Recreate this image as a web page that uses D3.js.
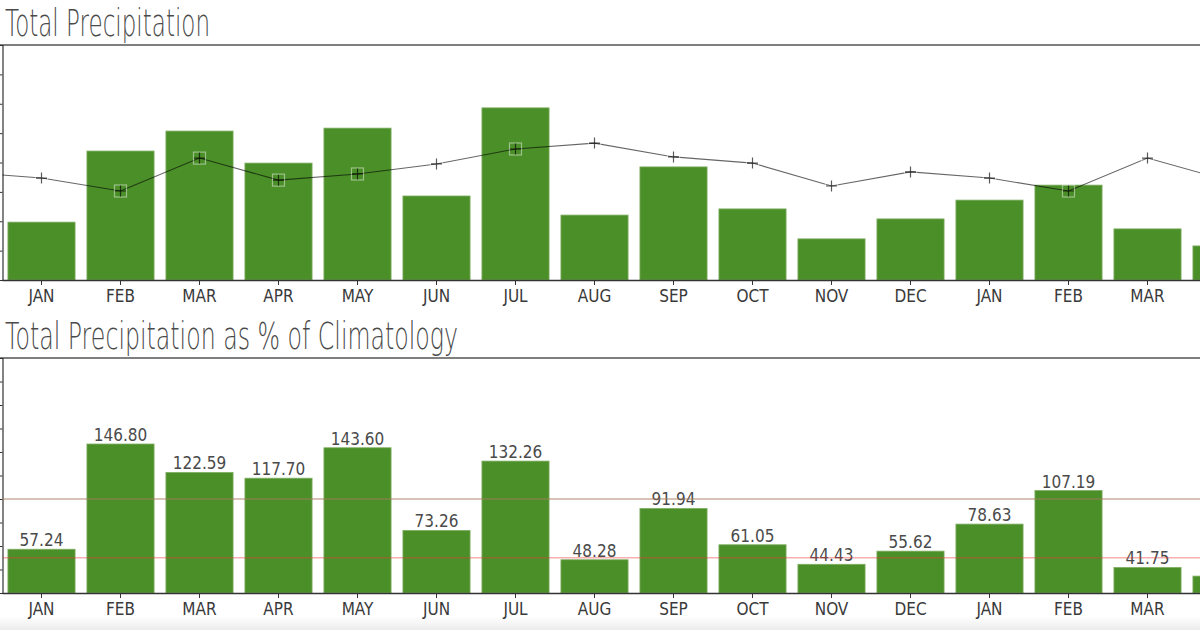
<!DOCTYPE html>
<html>
<head>
<meta charset="utf-8">
<script src="https://cdn.jsdelivr.net/npm/d3@7"></script>
<style>
	html, body { margin: 0; padding: 0; background: #fff; overflow: hidden; }
	text { font-family: "DejaVu Sans Condensed", "DejaVu Sans", sans-serif; }
</style>
</head>
<body>
<div id="chart"></div>
<script>
// Monthly labels along the x axis (16 months visible, last one cut off)
const months = ["JAN", "FEB", "MAR", "APR", "MAY", "JUN", "JUL", "AUG",
	"SEP", "OCT", "NOV", "DEC", "JAN", "FEB", "MAR", "APR"]

// Total precipitation per month (inches)
const precip = [1.97, 4.39, 5.07, 3.98, 5.17, 2.86, 5.86, 2.21,
	3.85, 2.42, 1.40, 2.08, 2.72, 3.23, 1.74, 1.16]

// Monthly climatology JAN..DEC (the line, repeats every year)
const climatology = [3.47, 3.03, 4.15, 3.40, 3.61, 3.95, 4.46, 4.66,
	4.19, 3.98, 3.20, 3.68]

// Precipitation as % of climatology
const pctOfClim = [57.24, 146.80, 122.59, 117.70, 143.60, 73.26, 132.26, 48.28,
	91.94, 61.05, 44.43, 55.62, 78.63, 107.19, 41.75, 34.38]

// Reference lines on the % panel
const refLines = [
	{ value: 100, color: "#a57a5a", opacity: 0.45, width: 2 },
	{ value: 50, color: "#e83a3a", opacity: 0.4, width: 1.5 },
]

const width = 1200
const height = 630
const left = 2.5
const green = "#4b8f29"

const svg = d3.select("#chart").append("svg")
	.attr("width", width)
	.attr("height", height)
	.style("display", "block")

// faint grey strip at the very bottom of the page
const grad = svg.append("defs").append("linearGradient")
	.attr("id", "fade").attr("x1", 0).attr("x2", 0).attr("y1", 0).attr("y2", 1)
grad.append("stop").attr("offset", "0%").attr("stop-color", "#fff")
grad.append("stop").attr("offset", "100%").attr("stop-color", "#ececec")
svg.append("rect").attr("x", 0).attr("y", 616).attr("width", width).attr("height", 14)
	.attr("fill", "url(#fade)")

const x = d3.scaleBand()
	.domain(d3.range(months.length))
	.range([2, 2 + 79 * months.length])
	.paddingInner(0.15)
	.paddingOuter(0.075)

const xCenter = (i) => x(0) + x.bandwidth() / 2 + i * x.step()
const plotRight = x.range()[1]
// labels whose centre falls past the crop are not in the picture
const inView = (i) => xCenter(i) < width

function drawFrame(g, y, frameTop, title, titleLen, tickVals) {
	g.append("text")
		.attr("x", 5)
		.attr("y", frameTop - 9)
		.attr("textLength", titleLen)
		.attr("lengthAdjust", "spacingAndGlyphs")
		.style("font-family", "'DejaVu Sans'")
		.style("font-weight", 200)
		.style("font-size", "37px")
		.attr("fill", "#4a4a4a")
		.text(title)

	// top border of the frame
	g.append("line")
		.attr("x1", 0).attr("x2", width)
		.attr("y1", frameTop).attr("y2", frameTop)
		.attr("stroke", "#555").attr("stroke-width", 1.6)

	// left axis, tick labels fall outside the crop
	const yAxis = g.append("g")
		.attr("transform", `translate(${left},0)`)
		.call(d3.axisLeft(y).tickValues(tickVals).tickSize(4).tickFormat(""))
	yAxis.select(".domain").attr("stroke", "#333").attr("stroke-width", 1.2)
	yAxis.selectAll(".tick line").attr("stroke", "#333")
}

function drawXAxis(g, axisY) {
	const xAxis = g.append("g")
		.attr("transform", `translate(0,${axisY})`)
		.call(d3.axisBottom(x)
			.tickValues(x.domain().filter(inView))
			.tickSize(5).tickSizeOuter(0)
			.tickFormat((i) => months[i]))
	xAxis.select(".domain").attr("stroke", "#333").attr("stroke-width", 1.6)
	xAxis.selectAll(".tick line").attr("stroke", "#333")
	xAxis.selectAll(".tick text")
		.attr("y", 10)
		.style("font-size", "17px")
		.style("font-family", "'DejaVu Sans Condensed'")
		.attr("fill", "#3a3a3a")
}

// ---------- Top panel: total precipitation ----------
const y1 = d3.scaleLinear().domain([0, 8]).range([280, 45])
const topG = svg.append("g")
drawFrame(topG, y1, 45, "Total Precipitation", 205, d3.range(0, 9))

topG.selectAll(".bar")
	.data(precip)
	.enter()
	.append("rect")
	.attr("class", "bar")
	.attr("x", (d, i) => x(i))
	.attr("y", (d) => y1(d))
	.attr("width", x.bandwidth())
	.attr("height", (d) => y1(0) - y1(d))
	.attr("fill", green)
	.attr("stroke", "#7fae62")
	.attr("stroke-width", 0.8)

// climatology line, one point before and after the visible months
topG.append("clipPath").attr("id", "clipTop")
	.append("rect").attr("x", left).attr("y", 45)
	.attr("width", plotRight - left).attr("height", 235)

const climPts = d3.range(-1, months.length + 1).map((i) => ({
	x: xCenter(i),
	v: climatology[(i + 12) % 12],
}))

const line = d3.line().x((d) => d.x).y((d) => y1(d.v))

const lineG = topG.append("g").attr("clip-path", "url(#clipTop)")
lineG.append("path")
	.datum(climPts)
	.attr("fill", "none")
	.attr("stroke", "#000")
	.attr("stroke-opacity", 0.6)
	.attr("stroke-width", 1.1)
	.attr("d", line)

const marks = lineG.selectAll(".mark")
	.data(climPts)
	.enter()
	.append("g")
	.attr("transform", (d) => `translate(${d.x},${y1(d.v)})`)
marks.append("rect")
	.attr("x", -6).attr("y", -6).attr("width", 12).attr("height", 12)
	.attr("fill", "none")
	.attr("stroke", "#fff")
	.attr("stroke-opacity", 0.45)
	.attr("stroke-width", 1.2)
marks.append("path")
	.attr("d", "M-5.5,0H5.5M0,-5.5V5.5")
	.attr("stroke", "#000")
	.attr("stroke-opacity", 0.65)
	.attr("stroke-width", 1.2)

drawXAxis(topG, 280)

// ---------- Bottom panel: % of climatology ----------
const y2 = d3.scaleLinear().domain([20, 220]).range([593, 358])
const botG = svg.append("g")
drawFrame(botG, y2, 358, "Total Precipitation as % of Climatology", 453, d3.range(20, 221, 20))

botG.selectAll(".bar")
	.data(pctOfClim)
	.enter()
	.append("rect")
	.attr("class", "bar")
	.attr("x", (d, i) => x(i))
	.attr("y", (d) => y2(d))
	.attr("width", x.bandwidth())
	.attr("height", (d) => y2(20) - y2(d))
	.attr("fill", green)
	.attr("stroke", "#7fae62")
	.attr("stroke-width", 0.8)

botG.selectAll(".val")
	.data(pctOfClim.filter((d, i) => inView(i)))
	.enter()
	.append("text")
	.attr("x", (d, i) => xCenter(i))
	.attr("y", (d) => y2(d) - 3)
	.attr("text-anchor", "middle")
	.style("font-size", "17px")
	.attr("fill", "#4a4a4a")
	.text((d) => d.toFixed(2))

refLines.forEach((r) => {
	botG.append("line")
		.attr("x1", left).attr("x2", plotRight)
		.attr("y1", y2(r.value)).attr("y2", y2(r.value))
		.attr("stroke", r.color)
		.attr("stroke-opacity", r.opacity)
		.attr("stroke-width", r.width)
})

drawXAxis(botG, 593)
</script>
</body>
</html>
